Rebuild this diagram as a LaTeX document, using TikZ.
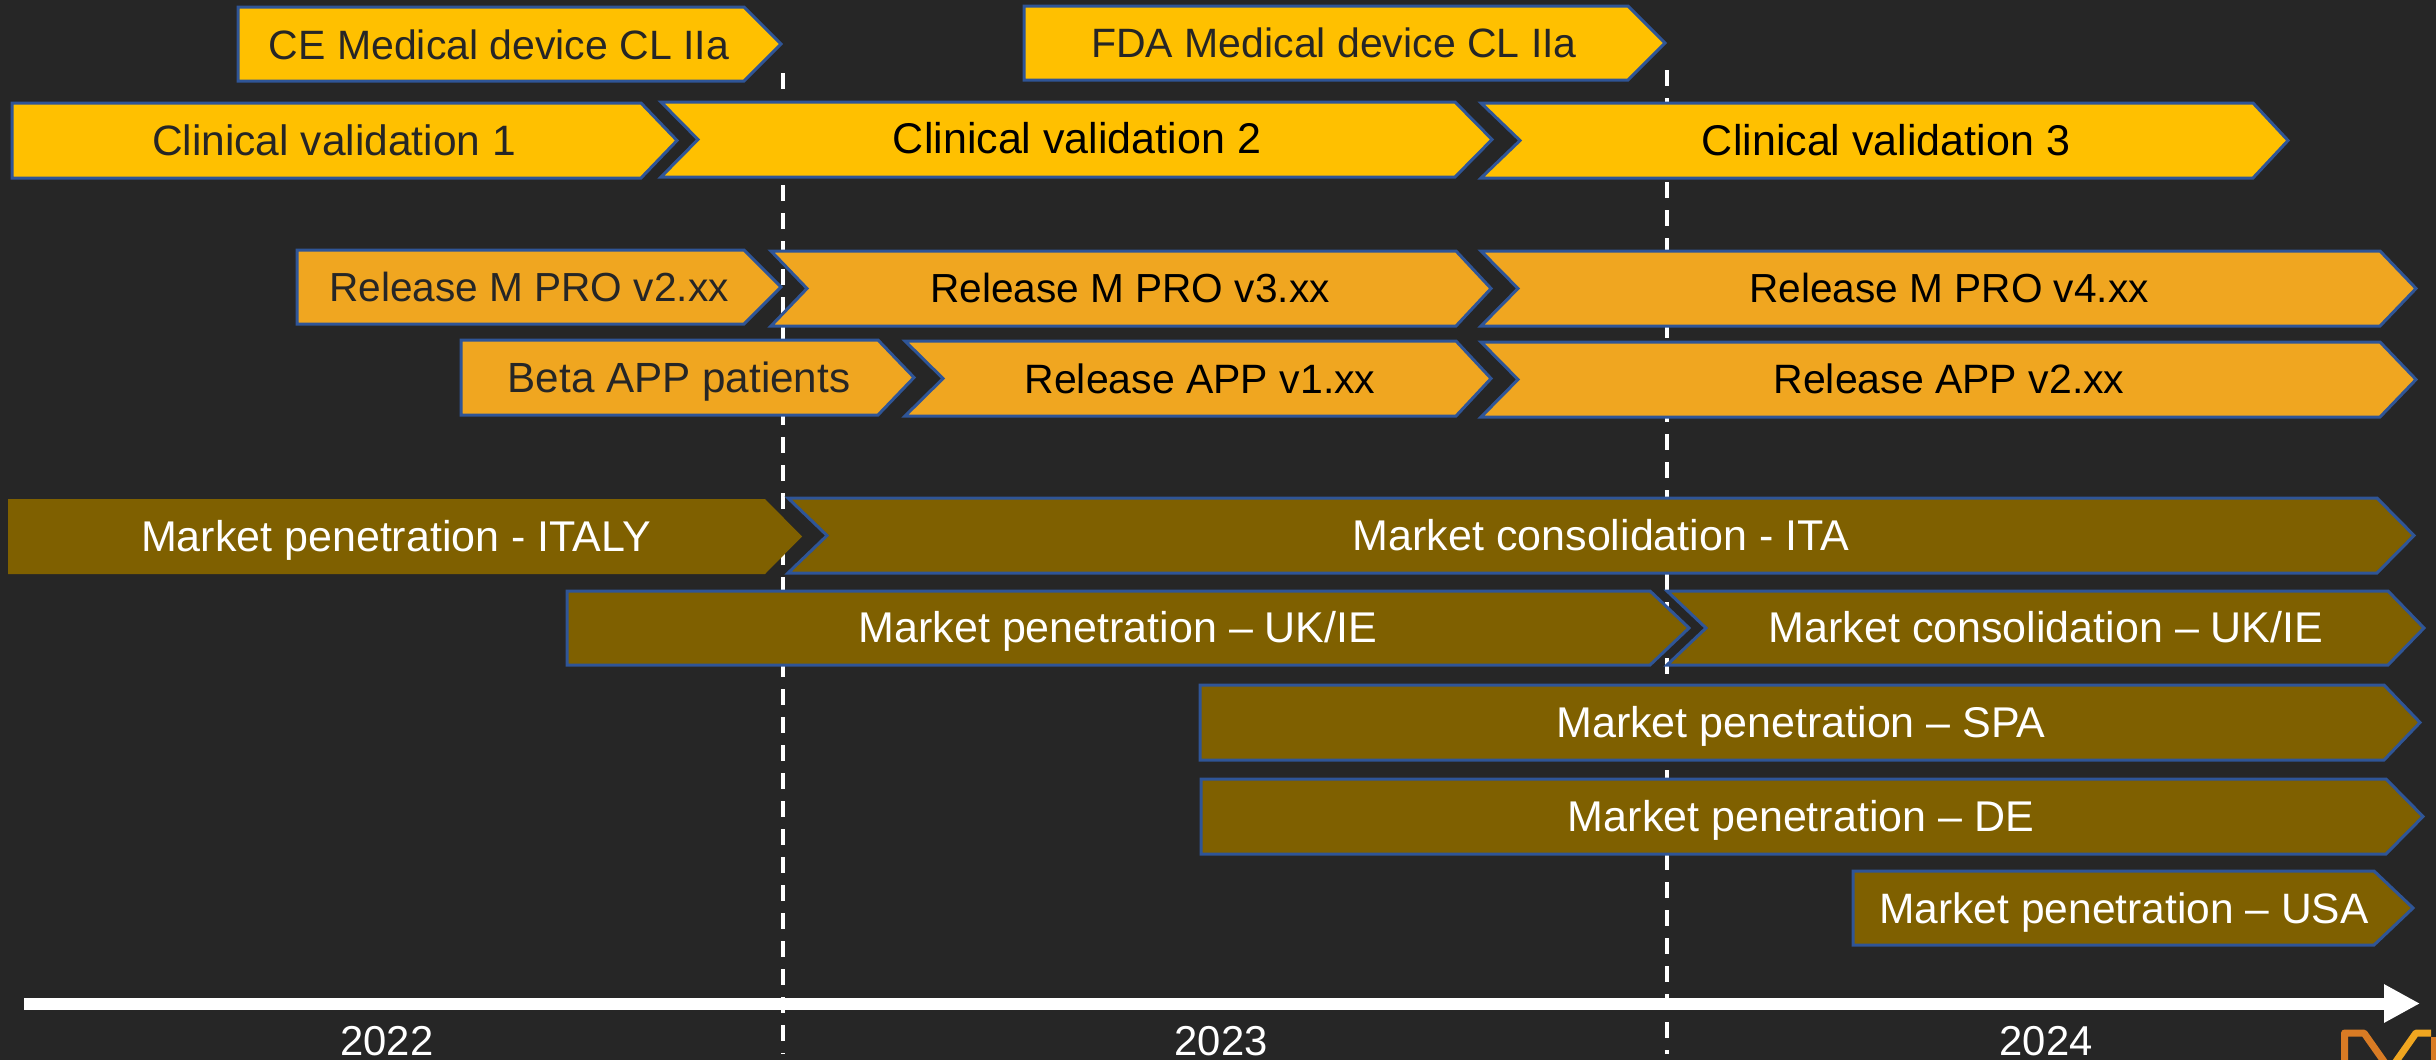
\documentclass[tikz,border=0pt]{standalone}
\usepackage{fontspec}
\setmainfont{Liberation Sans}
\usetikzlibrary{arrows.meta}
\definecolor{bgc}{HTML}{262626}
\definecolor{yel}{HTML}{FFC000}
\definecolor{ora}{HTML}{F0A620}
\definecolor{bro}{HTML}{7F6000}
\definecolor{edg}{HTML}{2F5597}
\definecolor{txd}{HTML}{262626}
\definecolor{logoA}{HTML}{D97B24}
\definecolor{logoB}{HTML}{F0A620}
\tikzset{x=1pt,y=-1pt,
 bar/.style={draw=edg,line width=3pt,line join=miter},
 barplain/.style={draw=none},
 lbl/.style={font=\fontsize{#1}{#1}\selectfont,inner sep=0pt,anchor=base},
 lbl/.default=41,
 dashline/.style={draw=white,line width=4pt,dash pattern=on 15.5pt off 12.5pt},
 logostroke/.style={line width=7pt,line join=round}}
% #1 style, #2 left, #3 notch, #4 shoulder, #5 tip, #6 top, #7 bottom
\newcommand{\chev}[7]{\path[#1] (#2,#6) -- (#4,#6) -- (#5,{(#6+#7)/2}) -- (#4,#7) -- (#2,#7) -- (#3,{(#6+#7)/2}) -- cycle;}
\begin{document}
\begin{tikzpicture}
\useasboundingbox[fill=bgc] (0,0) rectangle (2436,1060);
\coordinate (d1a) at (783,73); \coordinate (d1b) at (783,1054);
\coordinate (d2a) at (1667,70); \coordinate (d2b) at (1667,1054);
\draw[dashline] (d1a) -- (d1b);
\draw[dashline] (d2a) -- (d2b);
\chev{bar,fill=yel}{238}{238}{744}{781}{7}{81}
\chev{bar,fill=yel}{1024}{1024}{1628}{1665}{6}{80}
\chev{bar,fill=yel}{12}{12}{641}{677}{103}{178}
\chev{bar,fill=yel}{661}{698}{1455}{1492}{102}{177}
\chev{bar,fill=yel}{1481}{1520}{2253}{2288}{103}{178}
\chev{bar,fill=ora}{297}{297}{744}{781}{250}{324}
\chev{bar,fill=ora}{771}{807}{1456}{1491}{251}{326}
\chev{bar,fill=ora}{1481}{1518}{2380}{2416}{251}{326}
\chev{bar,fill=ora}{461}{461}{878}{914}{340}{415}
\chev{bar,fill=ora}{905}{943}{1456}{1491}{341}{416}
\chev{bar,fill=ora}{1481}{1518}{2380}{2416}{342}{417}
\chev{barplain,fill=bro}{8}{8}{765}{802}{499}{574}
\chev{bar,fill=bro}{788}{827}{2377}{2414}{498}{573}
\chev{bar,fill=bro}{567}{567}{1650}{1689}{591}{665}
\chev{bar,fill=bro}{1667}{1706}{2388}{2424}{591}{665}
\chev{bar,fill=bro}{1200}{1200}{2384}{2420}{685}{760}
\chev{bar,fill=bro}{1201}{1201}{2386}{2423}{779}{854}
\chev{bar,fill=bro}{1853}{1853}{2374}{2413}{871}{945}
\node[lbl,text=txd] (t1) at (499,59) {CE Medical device CL IIa};
\node[lbl,text=txd] (t2) at (1334,57) {FDA Medical device CL IIa};
\node[lbl=42.5,text=txd] (t3) at (334,155) {Clinical validation 1};
\node[lbl=43,text=black] (t4) at (1077,153) {Clinical validation 2};
\node[lbl=43,text=black] (t5) at (1886,155) {Clinical validation 3};
\node[lbl=40.6,text=txd] (t6) at (529,301) {Release M PRO v2.xx};
\node[lbl=40.6,text=black] (t7) at (1130,302) {Release M PRO v3.xx};
\node[lbl=40.6,text=black] (t8) at (1949,302) {Release M PRO v4.xx};
\node[lbl=42.2,text=txd] (t9) at (679,392) {Beta APP patients};
\node[lbl,text=black] (t10) at (1200,393) {Release APP v1.xx};
\node[lbl,text=black] (t11) at (1949,393) {Release APP v2.xx};
\node[lbl=43,text=white] (t12) at (396,551) {Market penetration - ITALY};
\node[lbl=43,text=white] (t13) at (1601,550) {Market consolidation - ITA};
\node[lbl=43,text=white] (t14) at (1118,642) {Market penetration – UK/IE};
\node[lbl=43,text=white] (t15) at (2046,642) {Market consolidation – UK/IE};
\node[lbl=43,text=white] (t16) at (1801,737) {Market penetration – SPA};
\node[lbl=43,text=white] (t17) at (1801,831) {Market penetration – DE};
\node[lbl=42.5,text=white] (t18) at (2124,923) {Market penetration – USA};
\coordinate (axa) at (24,1003.5); \coordinate (axb) at (2420,1003.5);
\draw[white,line width=12pt,-{Triangle[length=36pt,width=36pt]}] (axa) -- (axb);
\node[lbl=41.8,text=white] (y1) at (387,1055) {2022};
\node[lbl=41.8,text=white] (y2) at (1221,1055) {2023};
\node[lbl=41.8,text=white] (y3) at (2046,1055) {2024};
\begin{scope}
\clip (2300,1020) rectangle (2436,1060);
\draw[logostroke,logoA] (2344.5,1070) -- (2344.5,1033) -- (2364,1033) -- (2390,1070);
\draw[logostroke,logoB] (2390,1070) -- (2416,1033) -- (2431,1033);
\fill[logoA] (2431,1037) rectangle (2436,1060);
\end{scope}
\end{tikzpicture}
\end{document}
